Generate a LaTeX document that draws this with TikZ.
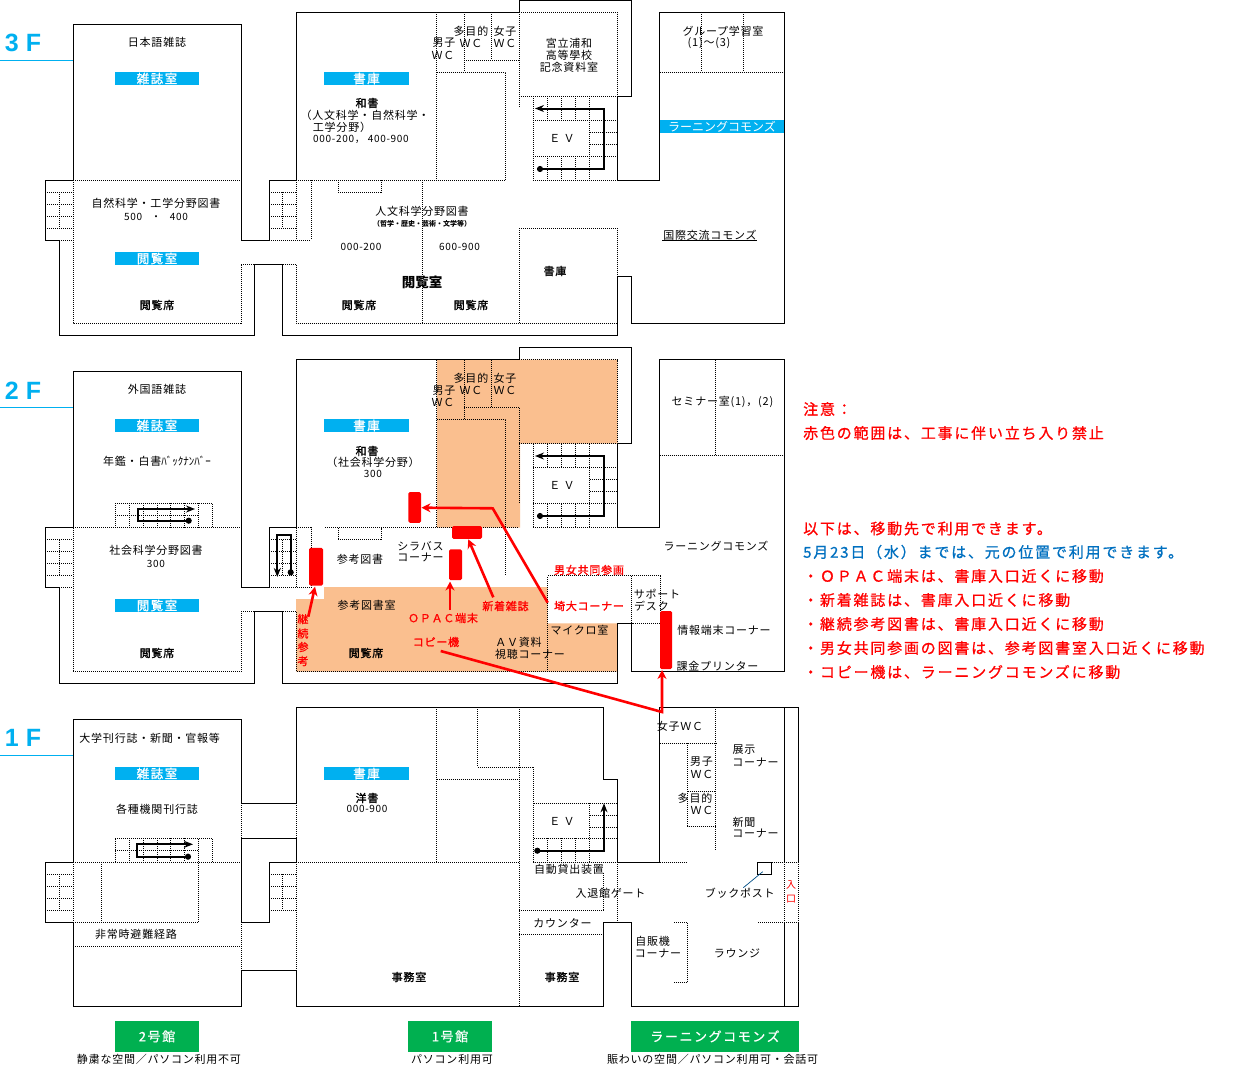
\documentclass[tikz,border=0pt]{standalone}
\usepackage{fontspec}
\usetikzlibrary{arrows.meta}
\setmainfont{Noto Sans CJK JP}
\newfontfamily\jp[LetterSpace=7]{Noto Sans CJK JP}
\newfontfamily\jpm[LetterSpace=7,FakeBold=1.2]{Noto Sans CJK JP}
\newfontfamily\jpn{Noto Sans CJK JP}
\newfontfamily\jpd[LetterSpace=7]{Noto Sans CJK JP}
\newfontfamily\jpw[LetterSpace=12,FakeBold=0.8]{Noto Sans CJK JP}
\newfontfamily\jpl[LetterSpace=12,FakeBold=1.2]{Noto Sans CJK JP}
\newfontfamily\jpgr[LetterSpace=12,FakeBold=0.6]{Noto Sans CJK JP}
\newfontfamily\hd{Liberation Sans}
\definecolor{cyanb}{HTML}{00B0F0}
\definecolor{greenb}{HTML}{00B050}
\definecolor{orangeb}{HTML}{FABF8F}
\definecolor{blue2}{HTML}{0070C0}
\definecolor{redb}{HTML}{FF0000}
\newcounter{tn}
\newcommand\T[4][txt]{\stepcounter{tn}\node[#1] (t\thetn) at (#2,#3) {#4};}
\newcommand\B[6][cyanb]{\stepcounter{tn}\node[fill=#1,draw=none,minimum width=#4pt-#2pt,minimum height=#5pt-#3pt,inner sep=0pt,text=white,font=\fontsize{12.5}{12}\selectfont\jpl] (t\thetn) at ({(#2+#4)/2},{(#3+#5)/2}) {#6};}
\newcommand\nar{\fontsize{12}{12}\selectfont\jpn}
\newcommand\grn{\fontsize{13}{13}\selectfont\jpgr}
\tikzset{
 x=1pt,y=-1pt,
 wall/.style={draw=black,line width=1pt,line join=miter},
 dotl/.style={draw=black,line width=0.9pt,dash pattern=on 1pt off 1pt},
 lift/.style={draw=black,line width=2pt,line join=miter,{Circle[length=6pt]}-{Stealth[length=9pt,width=7pt]}},
 redarrow/.style={draw=redb,line width=2.6pt,line join=miter,-{Stealth[length=9pt,width=9pt]}},
 redbox/.style={fill=redb,draw=none,rounded corners=1.5pt,inner sep=0pt},
 txt/.style={inner sep=0pt,align=center,font=\fontsize{11}{12}\selectfont\jp},
 num/.style={inner sep=0pt,align=center,font=\fontsize{10}{12}\selectfont\jpd},
 smalltxt/.style={inner sep=0pt,font=\fontsize{7}{8}\selectfont\jpn\bfseries},
 boldt/.style={inner sep=0pt,align=center,font=\fontsize{11}{12}\selectfont\jpm},
 redt/.style={inner sep=0pt,align=center,text=redb,font=\fontsize{11}{12}\selectfont\jpm},
 note/.style={inner sep=0pt,anchor=west,text=redb,font=\fontsize{15}{16}\selectfont\jpw},
 note2/.style={note,text=blue2},
 floor/.style={inner sep=0pt,text=cyanb,font=\fontsize{25}{25}\selectfont\hd\bfseries},
}
\begin{document}
\begin{tikzpicture}
\useasboundingbox (0,0) rectangle (1233,1068);
\fill[white] (0,0) rectangle (1233,1068);
% ---------- orange areas
\fill[orangeb] (437,359.5) -- (617.5,359.5) -- (617.5,443.5) -- (520,443.5) -- (520,527.7) -- (437,527.7) -- cycle;
\fill[orangeb] (296,599) -- (324,599) -- (324,587) -- (547.7,587) -- (547.7,623.3) -- (617.5,623.3) -- (617.5,671.5) -- (296,671.5) -- cycle;
% ---------- blue floor rules
\draw[cyanb,line width=1pt] (0,60.7) -- (73,60.7);
\draw[cyanb,line width=1pt] (0,407.3) -- (73,407.3);
\draw[cyanb,line width=1pt] (0,755.3) -- (73,755.3);
% ---------- 3F walls
\draw[wall] (73,24) -- (241,24) -- (241,240) -- (269,240) -- (269,180) -- (296,180) -- (296,12) -- (519,12) -- (519,0.6) -- (631,0.6) -- (631,96) -- (617.5,96) -- (617.5,180) -- (659.5,180) -- (659.5,12) -- (784.3,12) -- (784.3,323) -- (631.5,323) -- (631.5,276) -- (617.5,276) -- (617.5,335) -- (282.5,335) -- (282.5,264) -- (254.5,264) -- (254.5,335) -- (59,335) -- (59,240) -- (45,240) -- (45,180) -- (73,180) -- cycle;
% 3F dotted
\draw[dotl] (73,180) -- (241,180) (73,180) -- (73,323) -- (241,323) -- (241,264) -- (254.5,264) (59,240) -- (73,240);
\draw[dotl] (45,192.3) -- (73,192.3) (45,204.3) -- (73,204.3) (45,216.3) -- (73,216.3) (45,228.3) -- (73,228.3) (59,192.3) -- (59,228.3);
\draw[dotl] (269,240) -- (311,240) (296,180) -- (296,240) (311,180) -- (311,240) (269,192.3) -- (296,192.3) (269,204.3) -- (296,204.3) (269,216.3) -- (296,216.3) (269,228.3) -- (296,228.3) (282.5,192.3) -- (282.5,228.3);
\draw[dotl] (296,180) -- (505.7,180) (338,180) -- (338,192) -- (381,192) -- (381,180);
\draw[dotl] (282.5,264) -- (296,264) -- (296,323) -- (617.5,323) (422.7,180) -- (422.7,323) (519,228) -- (519,323) (519,228) -- (617.5,228) -- (617.5,276);
\draw[dotl] (519,12) -- (617.5,12) -- (617.5,96) -- (519,96) (519,12) -- (519,108);
\draw[dotl] (436.7,12) -- (436.7,180) (464.3,12) -- (464.3,72) (491.7,12) -- (491.7,60) (464.3,60) -- (519,60) (436.7,72) -- (505.7,72) -- (505.7,180);
\draw[dotl] (533,96) -- (533,180) -- (617.5,180) (533,120) -- (617.5,120) (533,156) -- (617.5,156) (589.7,132) -- (617.5,132) (589.7,144) -- (617.5,144) (589.7,96) -- (589.7,180) (547.7,96) -- (547.7,120) (561.7,96) -- (561.7,120) (575.7,96) -- (575.7,120) (547.7,156) -- (547.7,180) (561.7,156) -- (561.7,180) (575.7,156) -- (575.7,180);
\draw[dotl] (659.5,72) -- (784.3,72) (701.7,12) -- (701.7,72) (743.3,12) -- (743.3,72);
\draw[lift] (537,169) -- (604,169) -- (604,108.5) -- (535,108.5);
% ---------- 2F walls
\draw[wall] (73,371.5) -- (241,371.5) -- (241,587.5) -- (269,587.5) -- (269,527.5) -- (296,527.5) -- (296,359.5) -- (519,359.5) -- (519,347.5) -- (631,347.5) -- (631,443.5) -- (617.5,443.5) -- (617.5,527.5) -- (659.5,527.5) -- (659.5,359.5) -- (784.3,359.5) -- (784.3,671.5) -- (631.5,671.5) -- (631.5,623.5) -- (617.5,623.5) -- (617.5,683.5) -- (282.5,683.5) -- (282.5,611.5) -- (254.5,611.5) -- (254.5,683.5) -- (59,683.5) -- (59,587.5) -- (45,587.5) -- (45,527.5) -- (73,527.5) -- cycle;
% 2F dotted
\draw[dotl] (73,527.5) -- (241,527.5) (73,527.5) -- (73,671.5) -- (241,671.5) -- (241,611.5) -- (254.5,611.5) (59,587.5) -- (73,587.5);
\draw[dotl] (45,539.5) -- (73,539.5) (45,551.5) -- (73,551.5) (45,563.5) -- (73,563.5) (45,575.5) -- (73,575.5) (59,539.5) -- (59,575.5);
\draw[dotl] (115,527.5) -- (115,503.3) -- (212.3,503.3) -- (212.3,527.5) (115,515.3) -- (198.3,515.3) (129.3,503.3) -- (129.3,527.5) (143.3,503.3) -- (143.3,527.5) (157.3,503.3) -- (157.3,527.5) (170.3,503.3) -- (170.3,527.5) (184.3,503.3) -- (184.3,527.5) (198.3,503.3) -- (198.3,527.5);
\draw[dotl] (269,587.5) -- (311,587.5) (296,527.5) -- (296,587.5) (296,527.5) -- (311,527.5) -- (311,587.5) (269,539.5) -- (296,539.5) (269,551.5) -- (296,551.5) (269,563.5) -- (296,563.5) (269,575.5) -- (296,575.5) (282.5,539.5) -- (282.5,575.5);
\draw[dotl] (325,527.5) -- (519,527.5) (338,527.5) -- (338,539.3) -- (381,539.3) -- (381,527.5);
\draw[dotl] (282.5,611.5) -- (296,611.5) -- (296,671.5) -- (617.5,671.5);
\draw[dotl] (436.7,359.5) -- (436.7,527.5) (464.3,359.5) -- (464.3,419.3) (491.7,359.5) -- (491.7,407.5) (464.3,407.5) -- (519,407.5) (436.7,419.3) -- (505.7,419.3) -- (505.7,575) (519,407.5) -- (519,503);
\draw[dotl] (519,359.5) -- (617.5,359.5) -- (617.5,443.5) -- (519,443.5);
\draw[dotl] (533,443.5) -- (533,527.5) -- (617.5,527.5) (533,467.5) -- (617.5,467.5) (533,503.5) -- (617.5,503.5) (589.7,479.5) -- (617.5,479.5) (589.7,491.5) -- (617.5,491.5) (589.7,443.5) -- (589.7,527.5) (547.7,443.5) -- (547.7,467.5) (561.7,443.5) -- (561.7,467.5) (575.7,443.5) -- (575.7,467.5) (547.7,503.5) -- (547.7,527.5) (561.7,503.5) -- (561.7,527.5) (575.7,503.5) -- (575.7,527.5);
\draw[dotl] (547.7,671.5) -- (547.7,575.7) -- (660,575.7) -- (660,623.3) -- (631.5,623.3) (631.5,575.7) -- (631.5,623.3);
\draw[dotl] (659.5,455.3) -- (784.3,455.3) (715.7,359.5) -- (715.7,455.3);
\draw[lift] (191.7,520.7) -- (138.3,520.7) -- (138.3,509) -- (195,509);
\draw[lift] (290.7,575.3) -- (290.7,535) -- (277.3,535) -- (277.3,577);
\draw[lift] (537,516) -- (604,516) -- (604,456) -- (535,456);
% ---------- 1F walls
\draw[wall] (73,719.3) -- (241,719.3) -- (241,803.3) -- (296,803.3) -- (296,707.3) -- (603.5,707.3) -- (603.5,779.3) -- (617.5,779.3) -- (617.5,862.3) -- (659.5,862.3) -- (659.5,707.3) -- (798.3,707.3) -- (798.3,862.3);
\draw[wall] (798.3,922.3) -- (798.3,1006.3) -- (631.5,1006.3) -- (631.5,922.3) -- (603.5,922.3) -- (603.5,1006.3) -- (296,1006.3) -- (296,970.3) -- (241,970.3) -- (241,1006.3) -- (73,1006.3) -- (73,922.3) -- (45,922.3) -- (45,862.3) -- (73,862.3) -- (73,719.3);
\draw[wall] (241,922.3) -- (241,838.3) -- (296,838.3) -- (296,862.3) -- (269,862.3) -- (269,922.3) -- (241,922.3);
\draw[wall] (784.3,707.3) -- (784.3,862.3) (784.3,922.3) -- (784.3,1006.3);
\draw[draw=black,line width=1pt] (757.3,862.3) rectangle (771.7,874.3);
\draw[draw=blue2!70!black,line width=0.7pt] (762.7,871.7) -- (743.3,887.7);
% 1F dotted
\draw[dotl] (241,803.3) -- (241,838.3) (296,803.3) -- (296,838.3) (241,922.3) -- (241,970.3) (296,862.3) -- (296,970.3);
\draw[dotl] (73,862.3) -- (241,862.3) (73,862.3) -- (73,922.3) -- (198.7,922.3) -- (198.7,838.3) (101.3,862.3) -- (101.3,922.3) (73,946.3) -- (241,946.3);
\draw[dotl] (45,874.3) -- (73,874.3) (45,886.3) -- (73,886.3) (45,898.3) -- (73,898.3) (45,910.3) -- (73,910.3) (59,874.3) -- (59,910.3);
\draw[dotl] (115,862.3) -- (115,838.3) -- (212.3,838.3) -- (212.3,862.3) (115,850.5) -- (198.3,850.5) (129.3,838.3) -- (129.3,862.3) (143.3,838.3) -- (143.3,862.3) (157.3,838.3) -- (157.3,862.3) (170.3,838.3) -- (170.3,862.3) (184.3,838.3) -- (184.3,862.3);
\draw[dotl] (269,874.3) -- (296,874.3) (269,886.3) -- (296,886.3) (269,898.3) -- (296,898.3) (269,910.3) -- (296,910.3) (282.7,874.3) -- (282.7,910.3);
\draw[dotl] (296,862.3) -- (519.3,862.3) (519.3,707.3) -- (519.3,1006.3) (436.7,707.3) -- (436.7,862.3) (477.7,707.3) -- (477.7,767.3) -- (533.7,767.3) -- (533.7,862.3) -- (617.5,862.3) (436.7,779.3) -- (519.3,779.3);
\draw[dotl] (533.7,803.3) -- (617.5,803.3) (533.7,838.3) -- (617.5,838.3) (589.7,803.3) -- (589.7,862.3) (547.7,838.3) -- (547.7,862.3) (561.7,838.3) -- (561.7,862.3) (575.7,838.3) -- (575.7,862.3) (589.7,815.3) -- (617.5,815.3) (589.7,827.3) -- (617.5,827.3);
\draw[dotl] (617.5,862.3) -- (617.5,922.3) (603.5,873) -- (603.5,910.3) (519.3,910.3) -- (603.5,910.3) (519.3,934.3) -- (603.5,934.3);
\draw[dotl] (659.5,862.3) -- (687.3,862.3) (771.7,862.3) -- (798.3,862.3) (784.3,862.3) -- (784.3,922.3) (798.3,862.3) -- (798.3,922.3) (758.3,922.3) -- (798.3,922.3);
\draw[dotl] (659.5,743.3) -- (715.7,743.3) (715.7,707.3) -- (715.7,850) (687.7,743.3) -- (687.7,826.3) -- (715.7,826.3) (687.7,791.3) -- (715.7,791.3);
\draw[dotl] (674,922.3) -- (687.7,922.3) -- (687.7,982.3) -- (674,982.3);
\draw[lift] (191,856.7) -- (136.7,856.7) -- (136.7,844.3) -- (193,844.3);
\draw[lift] (534.3,850.7) -- (604,850.7) -- (604,803.3);
% ---------- headings
\T[floor]{23}{43}{3 F}
\T[floor]{23}{390.5}{2 F}
\T[floor]{23}{738}{1 F}
% ---------- cyan and green labels
\B{115}{72}{199}{85}{雑誌室}
\B{324}{72}{409}{85}{書庫}
\B{115}{252}{199}{265}{閲覧室}
\B{660}{120}{784}{133}{\nar ラーニングコモンズ}
\B{115}{419}{199}{432}{雑誌室}
\B{324}{419}{409}{432}{書庫}
\B{115}{599}{199}{612}{閲覧室}
\B{115}{767}{199}{780}{雑誌室}
\B{324}{767}{409}{780}{書庫}
\B[greenb]{115}{1021}{199}{1051.7}{\grn 2号館}
\B[greenb]{408}{1021}{492}{1051.7}{\grn 1号館}
\B[greenb]{631}{1021}{799}{1051.7}{\grn ラーニングコモンズ}
% ---------- 3F texts
\T{157}{42}{日本語雑誌}
\T[boldt]{367}{103}{和書}
\T{365}{115}{（人文科学・自然科学・}
\T{342}{127}{工学分野）}
\T[num]{361}{139}{000-200， 400-900}
\T{471}{31}{多目的}
\T{505}{31}{女子}
\T{471}{43}{ＷＣ}
\T{505}{43}{ＷＣ}
\T{444}{43}{男子}
\T{443}{55}{ＷＣ}
\T{569}{43}{宮立浦和}
\T{569}{55}{高等學校}
\T{569}{67}{記念資料室}
\T{562}{138}{Ｅ Ｖ}
\T{723}{31}{グループ学習室}
\T{709}{43}{(1)～(3)}
\T{710}{235}{国際交流コモンズ}
\draw[black,line width=0.8pt] (662,240) -- (757,240);
\T[boldt]{555}{271}{書庫}
\T{156}{203}{自然科学・工学分野図書}
\T[num]{156}{217}{500 \ \ ・ \ \ 400}
\T[boldt]{157}{305}{閲覧席}
\T{422}{211}{人文科学分野図書}
\T[smalltxt]{422}{224}{（哲学・歴史・芸術・文学等）}
\T[num]{361}{247}{000-200}
\T[num]{459.5}{247}{600-900}
\stepcounter{tn}\node[inner sep=0pt,font=\fontsize{13.5}{14}\selectfont\jpn\bfseries] (t\thetn) at (422,282) {閲覧室};
\T[boldt]{359}{305}{閲覧席}
\T[boldt]{471}{305}{閲覧席}
% ---------- 2F texts
\T{157}{389}{外国語雑誌}
\T{157}{461}{年鑑・白書{\jpn ﾊﾞｯｸﾅﾝﾊﾞｰ}}
\T{156}{550}{社会科学分野図書}
\T[num]{156}{564}{300}
\T[boldt]{157}{653}{閲覧席}
\T[boldt]{367}{451}{和書}
\T{373}{462}{（社会科学分野）}
\T[num]{373}{473.5}{300}
\T{360}{559}{参考図書}
\T{420.5}{546}{シラバス}
\T{420.5}{557.7}{コーナー}
\T{366.7}{605.7}{参考図書室}
\T[boldt]{366}{653}{閲覧席}
\T{518.5}{642}{ＡＶ資料}
\T{530}{654}{視聴コーナー}
\T{579.5}{630}{マイクロ室}
\T{657}{594}{サポート}
\T{651.5}{606}{デスク}
\T{724}{630}{情報端末コーナー}
\T{717.5}{666}{課金プリンター}
\T{716}{546}{ラーニングコモンズ}
\T{722.5}{402}{セミナー室(1)，(2)}
\T{471}{378.5}{多目的}
\T{505}{378.5}{女子}
\T{471}{390.5}{ＷＣ}
\T{505}{390.5}{ＷＣ}
\T{444}{390.5}{男子}
\T{443}{402}{ＷＣ}
\T{562}{485}{Ｅ Ｖ}
\T[redt]{303}{619}{継}
\T[redt]{303}{633.5}{続}
\T[redt]{303}{647}{参}
\T[redt]{303}{661}{考}
\T[redt]{443}{618}{ＯＰＡＣ端末}
\T[redt]{436}{642}{コピー機}
\T[redt]{505.5}{606}{新着雑誌}
\T[redt]{589}{606}{埼大コーナー}
\T[redt]{589}{570}{男女共同参画}
% ---------- 1F texts
\T{149.7}{738}{大学刊行誌・新聞・官報等}
\T{157}{809}{各種機関刊行誌}
\T{136}{934}{非常時避難経路}
\T[boldt]{367}{798}{洋書}
\T[num]{367}{809}{000-900}
\T[boldt]{409}{977}{事務室}
\T[boldt]{562}{977}{事務室}
\T{562}{821}{Ｅ Ｖ}
\T{569}{869.5}{自動貸出装置}
\T{610.5}{893}{入退館ゲート}
\T{562.5}{923}{カウンター}
\T{680}{726}{女子ＷＣ}
\T{744}{750}{展示}
\T{755.5}{762}{コーナー}
\T{701.5}{762}{男子}
\T{702}{774}{ＷＣ}
\T{695}{798}{多目的}
\T{702}{810}{ＷＣ}
\T{744}{822}{新聞}
\T{755.5}{833}{コーナー}
\T{739.7}{893}{ブックポスト}
\T{652.7}{941}{自販機}
\T{658}{953}{コーナー}
\T{737}{953}{ラウンジ}
\stepcounter{tn}\node[inner sep=0pt,text=redb,font=\fontsize{10}{14}\selectfont\jpn,align=center] (t\thetn) at (791,892) {入\\口};
% ---------- captions
\T{159}{1059}{静粛な空間／パソコン利用不可}
\T{452}{1059}{パソコン利用可}
\T{712.7}{1059}{賑わいの空間／パソコン利用可・会話可}
% ---------- notes
\T[note]{803}{409}{注意：}
\T[note]{803}{433}{赤色の範囲は、工事に伴い立ち入り禁止}
\T[note]{803}{528.5}{以下は、移動先で利用できます。}
\T[note2]{803}{552}{5月23日（水）までは、元の位置で利用できます。}
\T[note]{803}{576}{・ＯＰＡＣ端末は、書庫入口近くに移動}
\T[note]{803}{600}{・新着雑誌は、書庫入口近くに移動}
\T[note]{803}{624}{・継続参考図書は、書庫入口近くに移動}
\T[note]{803}{648}{・男女共同参画の図書は、参考図書室入口近くに移動}
\T[note]{803}{672}{・コピー機は、ラーニングコモンズに移動}
% ---------- red moved-item boxes and arrows
\node[redbox,minimum width=14pt,minimum height=37.7pt] (serialBox) at (316,566.8) {};
\node[redbox,minimum width=12.7pt,minimum height=30.7pt] (rightBox) at (414.7,507.4) {};
\node[redbox,minimum width=30pt,minimum height=12.7pt] (newBox) at (467,532.4) {};
\node[redbox,minimum width=13pt,minimum height=30.7pt] (opacBox) at (455.5,564.7) {};
\node[redbox,minimum width=12pt,minimum height=58pt] (copyBox) at (666,640) {};
\coordinate (serialStart) at (308.3,616.7);
\coordinate (serialEnd) at (315,586.7);
\coordinate (opacStart) at (450,610);
\coordinate (opacEnd) at (450,581.5);
\coordinate (newStart) at (493.3,597.3);
\coordinate (newEnd) at (468.3,539.3);
\coordinate (saiStart) at (547.7,602.7);
\coordinate (saiMid) at (492.7,508.3);
\coordinate (saiEnd) at (421.5,507.7);
\coordinate (copyStart) at (440.7,651);
\coordinate (copyMid) at (662,712);
\coordinate (copyEnd) at (662,670);
\draw[redarrow] (serialStart) -- (serialEnd);
\draw[redarrow] (opacStart) -- (opacEnd);
\draw[redarrow] (newStart) -- (newEnd);
\draw[redarrow] (saiStart) -- (saiMid) -- (saiEnd);
\draw[redarrow] (copyStart) -- (copyMid) -- (copyEnd);
\end{tikzpicture}
\end{document}
